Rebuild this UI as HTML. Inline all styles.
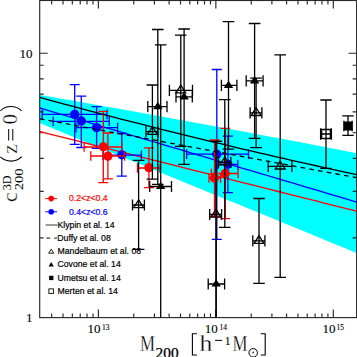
<!DOCTYPE html>
<html><head><meta charset="utf-8"><style>
html,body{margin:0;padding:0;background:#fff;width:357px;height:357px;overflow:hidden}
svg{display:block}
.s{font-family:"Liberation Serif",serif}
.a{font-family:"Liberation Sans",sans-serif}
</style></head><body>
<svg width="357" height="357" viewBox="0 0 357 357">
<rect width="357" height="357" fill="#fff"/>
<polygon fill="#00ffff" points="39.7,94.9 50.6,96.8 61.6,98.7 72.5,100.6 83.4,102.5 94.3,104.5 105.3,106.4 116.2,108.3 127.1,110.3 138.0,112.2 149.0,114.2 159.9,116.2 170.8,118.2 181.8,120.2 192.7,122.2 203.6,124.2 214.5,126.2 225.5,128.2 236.4,130.3 247.3,132.3 258.3,134.4 269.2,136.4 280.1,138.5 291.0,140.6 302.0,142.6 312.9,144.7 323.8,146.8 334.7,149.0 345.7,151.1 356.6,153.2 356.6,252.9 345.7,248.4 334.7,244.0 323.8,239.5 312.9,235.0 302.0,230.5 291.0,226.0 280.1,221.6 269.2,217.1 258.3,212.6 247.3,208.1 236.4,203.6 225.5,199.2 214.5,194.7 203.6,190.2 192.7,185.7 181.8,181.3 170.8,176.8 159.9,172.3 149.0,167.8 138.0,163.3 127.1,158.9 116.2,154.4 105.3,149.9 94.3,145.4 83.4,140.9 72.5,136.5 61.6,132.0 50.6,127.5 39.7,123.0"/>
<g><rect x="39.7" y="0.5" width="316.9" height="317.1" fill="none" stroke="#2a2a2a" stroke-width="1.15"/><path d="M39.7 317.50h8 M356.6 317.50h-8 M39.7 237.94h4 M356.6 237.94h-4 M39.7 191.40h4 M356.6 191.40h-4 M39.7 158.38h4 M356.6 158.38h-4 M39.7 132.76h4 M356.6 132.76h-4 M39.7 111.83h4 M356.6 111.83h-4 M39.7 94.14h4 M356.6 94.14h-4 M39.7 78.81h4 M356.6 78.81h-4 M39.7 65.29h4 M356.6 65.29h-4 M39.7 53.20h8 M356.6 53.20h-8 M51.66 317.6v-4 M51.66 0.5v4 M63.04 317.6v-4 M63.04 0.5v4 M72.34 317.6v-4 M72.34 0.5v4 M80.21 317.6v-4 M80.21 0.5v4 M87.02 317.6v-4 M87.02 0.5v4 M93.03 317.6v-4 M93.03 0.5v4 M98.40 317.6v-8 M98.40 0.5v8 M133.76 317.6v-4 M133.76 0.5v4 M154.44 317.6v-4 M154.44 0.5v4 M169.11 317.6v-4 M169.11 0.5v4 M180.49 317.6v-4 M180.49 0.5v4 M189.79 317.6v-4 M189.79 0.5v4 M197.66 317.6v-4 M197.66 0.5v4 M204.47 317.6v-4 M204.47 0.5v4 M210.48 317.6v-4 M210.48 0.5v4 M215.85 317.6v-8 M215.85 0.5v8 M251.21 317.6v-4 M251.21 0.5v4 M271.89 317.6v-4 M271.89 0.5v4 M286.56 317.6v-4 M286.56 0.5v4 M297.94 317.6v-4 M297.94 0.5v4 M307.24 317.6v-4 M307.24 0.5v4 M315.11 317.6v-4 M315.11 0.5v4 M321.92 317.6v-4 M321.92 0.5v4 M327.93 317.6v-4 M327.93 0.5v4 M333.30 317.6v-8 M333.30 0.5v8" stroke="#2a2a2a" stroke-width="1.15" fill="none"/></g>
<g><polyline fill="none" stroke="#ff0000" stroke-width="1.3"  points="39.7,131.48 47.8,133.53 56.0,135.57 64.1,137.61 72.2,139.66 80.3,141.70 88.5,143.75 96.6,145.79 104.7,147.83 112.8,149.88 121.0,151.92 129.1,153.96 137.2,156.01 145.3,158.05 153.5,160.09 161.6,162.14 169.7,164.18 177.8,166.22 186.0,168.27 194.1,170.31 202.2,172.35 210.3,174.40 218.5,176.44 226.6,178.49 234.7,180.53 242.8,182.57 251.0,184.62 259.1,186.66 267.2,188.70 275.3,190.75 283.5,192.79 291.6,194.83 299.7,196.88 307.8,198.92 316.0,200.96 324.1,203.01 332.2,205.05 340.3,207.09 348.5,209.14 356.6,211.18"/><polyline fill="none" stroke="#0000ff" stroke-width="1.3"  points="39.7,107.99 47.8,110.40 56.0,112.81 64.1,115.23 72.2,117.64 80.3,120.05 88.5,122.46 96.6,124.87 104.7,127.28 112.8,129.69 121.0,132.10 129.1,134.51 137.2,136.92 145.3,139.33 153.5,141.75 161.6,144.16 169.7,146.57 177.8,148.98 186.0,151.39 194.1,153.80 202.2,156.21 210.3,158.62 218.5,161.03 226.6,163.44 234.7,165.86 242.8,168.27 251.0,170.68 259.1,173.09 267.2,175.50 275.3,177.91 283.5,180.32 291.6,182.73 299.7,185.14 307.8,187.55 316.0,189.96 324.1,192.38 332.2,194.79 340.3,197.20 348.5,199.61 356.6,202.02"/><path d="M74.7 84.7V144.4M69.7 84.7H79.7M69.7 144.4H79.7" stroke="#0000ff" stroke-width="1.3" fill="none"/><path d="M42.2 114.4H107.0M42.2 109.6V119.2M107.0 109.6V119.2" stroke="#0000ff" stroke-width="1.3" fill="none"/><path d="M81.3 96.1V147.5M76.3 96.1H86.3M76.3 147.5H86.3" stroke="#0000ff" stroke-width="1.3" fill="none"/><path d="M53.2 121.3H109.3M53.2 116.5V126.1M109.3 116.5V126.1" stroke="#0000ff" stroke-width="1.3" fill="none"/><path d="M96.6 106.7V148.3M91.6 106.7H101.6M91.6 148.3H101.6" stroke="#0000ff" stroke-width="1.3" fill="none"/><path d="M76.0 127.6H117.6M76.0 122.8V132.4M117.6 122.8V132.4" stroke="#0000ff" stroke-width="1.3" fill="none"/><path d="M121.8 133.5V176.1M116.8 133.5H126.8M116.8 176.1H126.8" stroke="#0000ff" stroke-width="1.3" fill="none"/><path d="M103.0 155.2H141.4M103.0 150.4V160.0M141.4 150.4V160.0" stroke="#0000ff" stroke-width="1.3" fill="none"/><path d="M216.8 69.5V239.4M211.8 69.5H221.8M211.8 239.4H221.8" stroke="#0000ff" stroke-width="1.3" fill="none"/><path d="M186.6 154.1H248.5M186.6 149.3V158.9M248.5 149.3V158.9" stroke="#0000ff" stroke-width="1.3" fill="none"/><path d="M227.9 136.1V192.6M222.9 136.1H232.9M222.9 192.6H232.9" stroke="#0000ff" stroke-width="1.3" fill="none"/><path d="M218.0 164.5H237.8M218.0 159.7V169.3M237.8 159.7V169.3" stroke="#0000ff" stroke-width="1.3" fill="none"/><circle cx="74.7" cy="114.4" r="4.65" fill="#0000ff"/><circle cx="81.3" cy="121.0" r="4.65" fill="#0000ff"/><circle cx="96.6" cy="127.6" r="4.65" fill="#0000ff"/><circle cx="121.8" cy="154.8" r="4.65" fill="#0000ff"/><circle cx="216.8" cy="154.2" r="4.65" fill="#0000ff"/><circle cx="227.9" cy="164.3" r="4.65" fill="#0000ff"/><path d="M103.3 111.4V182.7M98.3 111.4H108.3M98.3 182.7H108.3" stroke="#ff0000" stroke-width="1.3" fill="none"/><path d="M84.1 147.0H121.8M84.1 142.2V151.8M121.8 142.2V151.8" stroke="#ff0000" stroke-width="1.3" fill="none"/><path d="M107.9 133.0V178.9M102.9 133.0H112.9M102.9 178.9H112.9" stroke="#ff0000" stroke-width="1.3" fill="none"/><path d="M90.8 156.0H124.6M90.8 151.2V160.8M124.6 151.2V160.8" stroke="#ff0000" stroke-width="1.3" fill="none"/><path d="M148.9 147.8V187.7M143.9 147.8H153.9M143.9 187.7H153.9" stroke="#ff0000" stroke-width="1.3" fill="none"/><path d="M137.5 168.0H160.0M137.5 163.2V172.8M160.0 163.2V172.8" stroke="#ff0000" stroke-width="1.3" fill="none"/><path d="M214.5 140.0V216.5M209.5 140.0H219.5M209.5 216.5H219.5" stroke="#ff0000" stroke-width="1.3" fill="none"/><path d="M209.0 178.0H220.6M209.0 173.2V182.8M220.6 173.2V182.8" stroke="#ff0000" stroke-width="1.3" fill="none"/><path d="M225.3 128.3V218.6M220.3 128.3H230.3M220.3 218.6H230.3" stroke="#ff0000" stroke-width="1.3" fill="none"/><path d="M211.3 173.5H238.1M211.3 168.7V178.3M238.1 168.7V178.3" stroke="#ff0000" stroke-width="1.3" fill="none"/><circle cx="103.3" cy="146.8" r="4.65" fill="#ff0000"/><circle cx="107.9" cy="156.1" r="4.65" fill="#ff0000"/><circle cx="148.9" cy="167.6" r="4.65" fill="#ff0000"/><circle cx="214.5" cy="178.0" r="4.65" fill="#ff0000"/><circle cx="225.3" cy="173.5" r="4.65" fill="#ff0000"/><polyline fill="none" stroke="#000" stroke-width="1.3"  points="39.7,97.49 47.8,99.69 56.0,101.89 64.1,104.07 72.2,106.24 80.3,108.40 88.5,110.54 96.6,112.68 104.7,114.80 112.8,116.91 121.0,119.01 129.1,121.09 137.2,123.17 145.3,125.23 153.5,127.28 161.6,129.32 169.7,131.34 177.8,133.36 186.0,135.36 194.1,137.35 202.2,139.32 210.3,141.29 218.5,143.24 226.6,145.19 234.7,147.11 242.8,149.03 251.0,150.94 259.1,152.83 267.2,154.71 275.3,156.58 283.5,158.44 291.6,160.28 299.7,162.12 307.8,163.94 316.0,165.75 324.1,167.54 332.2,169.33 340.3,171.10 348.5,172.86 356.6,174.61"/><polyline fill="none" stroke="#000" stroke-width="1.3" stroke-dasharray="4.7 4.14" stroke-dashoffset="8.73" points="39.7,118.85 47.8,120.35 56.0,121.86 64.1,123.37 72.2,124.88 80.3,126.39 88.5,127.90 96.6,129.41 104.7,130.92 112.8,132.43 121.0,133.94 129.1,135.45 137.2,136.96 145.3,138.47 153.5,139.98 161.6,141.49 169.7,143.00 177.8,144.50 186.0,146.01 194.1,147.52 202.2,149.03 210.3,150.54 218.5,152.05 226.6,153.56 234.7,155.07 242.8,156.58 251.0,158.09 259.1,159.60 267.2,161.11 275.3,162.62 283.5,164.13 291.6,165.64 299.7,167.15 307.8,168.65 316.0,170.16 324.1,171.67 332.2,173.18 340.3,174.69 348.5,176.20 356.6,177.71"/><path d="M152.4 85.0V179.1M146.6 85.0H158.2M146.6 179.1H158.2" stroke="#000" stroke-width="1.3" fill="none"/><path d="M146.0 131.7H158.0M146.0 126.1V137.3M158.0 126.1V137.3" stroke="#000" stroke-width="1.3" fill="none"/><polygon points="152.4,126.5 147.5,134.3 157.3,134.3" fill="none" stroke="#000" stroke-width="1.3"/><path d="M180.8 35.2V146.4M175.0 35.2H186.6M175.0 146.4H186.6" stroke="#000" stroke-width="1.3" fill="none"/><path d="M169.4 90.3H192.5M169.4 84.7V95.9M192.5 84.7V95.9" stroke="#000" stroke-width="1.3" fill="none"/><polygon points="180.8,85.1 175.9,92.9 185.7,92.9" fill="none" stroke="#000" stroke-width="1.3"/><path d="M256.1 78.2V147.6M250.3 78.2H261.9M250.3 147.6H261.9" stroke="#000" stroke-width="1.3" fill="none"/><path d="M250.1 112.9H261.9M250.1 107.3V118.5M261.9 107.3V118.5" stroke="#000" stroke-width="1.3" fill="none"/><polygon points="256.1,107.7 251.2,115.5 261.0,115.5" fill="none" stroke="#000" stroke-width="1.3"/><path d="M224.8 99.7V227.3M219.0 99.7H230.6M219.0 227.3H230.6" stroke="#000" stroke-width="1.3" fill="none"/><path d="M218.5 162.3H230.8M218.5 156.7V167.9M230.8 156.7V167.9" stroke="#000" stroke-width="1.3" fill="none"/><polygon points="224.8,157.1 219.9,164.9 229.7,164.9" fill="none" stroke="#000" stroke-width="1.3"/><path d="M280.2 54.9V277.4M274.4 54.9H286.0M274.4 277.4H286.0" stroke="#000" stroke-width="1.3" fill="none"/><path d="M268.2 166.4H291.9M268.2 160.8V172.0M291.9 160.8V172.0" stroke="#000" stroke-width="1.3" fill="none"/><polygon points="280.2,161.2 275.3,169.0 285.1,169.0" fill="none" stroke="#000" stroke-width="1.3"/><path d="M138.6 160.4V249.3M132.8 160.4H144.4M132.8 249.3H144.4" stroke="#000" stroke-width="1.3" fill="none"/><path d="M132.5 205.0H144.4M132.5 199.4V210.6M144.4 199.4V210.6" stroke="#000" stroke-width="1.3" fill="none"/><polygon points="138.6,199.8 133.7,207.6 143.5,207.6" fill="none" stroke="#000" stroke-width="1.3"/><path d="M216.0 141.4V317.6M210.2 141.4H221.8" stroke="#000" stroke-width="1.3" fill="none"/><path d="M209.7 214.5H221.6M209.7 208.9V220.1M221.6 208.9V220.1" stroke="#000" stroke-width="1.3" fill="none"/><polygon points="216.0,209.3 211.1,217.1 220.9,217.1" fill="none" stroke="#000" stroke-width="1.3"/><path d="M259.0 198.5V283.3M253.2 198.5H264.8M253.2 283.3H264.8" stroke="#000" stroke-width="1.3" fill="none"/><path d="M252.8 240.8H264.9M252.8 235.2V246.4M264.9 235.2V246.4" stroke="#000" stroke-width="1.3" fill="none"/><polygon points="259.0,235.6 254.1,243.4 263.9,243.4" fill="none" stroke="#000" stroke-width="1.3"/><path d="M157.8 29.5V184.3M152.0 29.5H163.6M152.0 184.3H163.6" stroke="#000" stroke-width="1.3" fill="none"/><path d="M147.8 106.6H167.0M147.8 101.0V112.2M167.0 101.0V112.2" stroke="#000" stroke-width="1.3" fill="none"/><polygon points="157.8,101.8 153.1,109.2 162.5,109.2" fill="#000"/><path d="M184.1 29.0V164.3M178.3 29.0H189.9M178.3 164.3H189.9" stroke="#000" stroke-width="1.3" fill="none"/><path d="M176.0 96.8H192.3M176.0 91.2V102.4M192.3 91.2V102.4" stroke="#000" stroke-width="1.3" fill="none"/><polygon points="184.1,92.0 179.4,99.4 188.8,99.4" fill="#000"/><path d="M160.7 44.8V317.6M154.9 44.8H166.5" stroke="#000" stroke-width="1.3" fill="none"/><path d="M149.7 186.5H171.5M149.7 180.9V192.1M171.5 180.9V192.1" stroke="#000" stroke-width="1.3" fill="none"/><polygon points="160.7,181.7 156.0,189.1 165.4,189.1" fill="#000"/><path d="M254.6 23.5V138.3M248.8 23.5H260.4M248.8 138.3H260.4" stroke="#000" stroke-width="1.3" fill="none"/><path d="M246.2 80.9H263.1M246.2 75.3V86.5M263.1 75.3V86.5" stroke="#000" stroke-width="1.3" fill="none"/><polygon points="254.6,76.1 249.9,83.5 259.3,83.5" fill="#000"/><path d="M228.5 21.7V149.1M222.7 21.7H234.3M222.7 149.1H234.3" stroke="#000" stroke-width="1.3" fill="none"/><path d="M221.4 85.4H236.9M221.4 79.8V91.0M236.9 79.8V91.0" stroke="#000" stroke-width="1.3" fill="none"/><polygon points="228.5,80.6 223.8,88.0 233.2,88.0" fill="#000"/><path d="M216.2 141.4V317.6M210.4 141.4H222.0" stroke="#000" stroke-width="1.3" fill="none"/><path d="M208.2 284.0H224.6M208.2 278.4V289.6M224.6 278.4V289.6" stroke="#000" stroke-width="1.3" fill="none"/><polygon points="216.2,279.2 211.5,286.6 220.9,286.6" fill="#000"/><path d="M326.0 100.0V168.3M320.3 100.0H331.7M320.3 168.3H331.7" stroke="#000" stroke-width="1.3" fill="none"/><path d="M320.6 134.0H331.4M320.6 128.2V139.8M331.4 128.2V139.8" stroke="#000" stroke-width="1.3" fill="none"/><rect x="321.5" y="129.5" width="9" height="9" fill="none" stroke="#000" stroke-width="1.5"/><path d="M348.0 115.9V135.4M342.3 115.9H353.7M342.3 135.4H353.7" stroke="#000" stroke-width="1.3" fill="none"/><path d="M343.9 126.0H352.2M343.9 120.7V131.3M352.2 120.7V131.3" stroke="#000" stroke-width="1.3" fill="none"/><rect x="343.8" y="121.5" width="8.4" height="9" fill="#000"/></g>
<g class="a" font-size="8.7" stroke-width="0.2">
<path d="M45.3 198.6H57" stroke="#f00" stroke-width="1"/>
<path d="M45.3 211.8H57" stroke="#00f" stroke-width="1"/>
<circle cx="51.2" cy="198.6" r="2.8" fill="#f00"/>
<circle cx="51.2" cy="211.8" r="2.8" fill="#00f"/>
<text x="69" y="201.4" fill="#f00" stroke="#f00">0.2&lt;z&lt;0.4</text>
<text x="69" y="214.6" fill="#00f" stroke="#00f">0.4&lt;z&lt;0.6</text>
<path d="M45.6 225H57.5" stroke="#222" stroke-width="0.9"/>
<text stroke="#000" x="57.5" y="227.5">Klypin et al. 14</text>
<path d="M46.4 238.1H50.3M54.2 238.1H57" stroke="#111" stroke-width="1"/>
<text stroke="#000" x="57.3" y="240.9">Duffy et al. 08</text>
<polygon points="51.2,249.2 48.7,253.2 53.7,253.2" fill="none" stroke="#000" stroke-width="0.9"/>
<text stroke="#000" x="57.5" y="254.1">Mandelbaum et al. 08</text>
<polygon points="51.2,262 48.6,266.4 53.8,266.4" fill="#000"/>
<text stroke="#000" x="57.5" y="267.3">Covone et al. 14</text>
<rect x="49.1" y="275.8" width="4.3" height="4.3" fill="#000"/>
<text stroke="#000" x="57.5" y="280.7">Umetsu et al. 14</text>
<rect x="48.9" y="288.9" width="4.5" height="4.5" fill="none" stroke="#000" stroke-width="0.9"/>
<text stroke="#000" x="57.5" y="293.6">Merten et al. 14</text>
</g>
<g class="s" fill="#000" stroke="#fff" stroke-width="0.45">
</g><g class="s" fill="#000" stroke="#000" stroke-width="0.12"><text x="32.5" y="57.7" font-size="13" text-anchor="end">10</text>
<text x="32.5" y="322" font-size="13" text-anchor="end">1</text>
<text x="87.4" y="332.9" font-size="13">10</text><text x="102" y="330" font-size="7.5">13</text>
<text x="204.8" y="332.9" font-size="13">10</text><text x="219.6" y="330" font-size="7.5">14</text>
<text x="322.4" y="332.9" font-size="13">10</text><text x="336.5" y="330" font-size="7.5">15</text>
</g><g class="s" fill="#000" stroke="#fff" stroke-width="0.3"><text x="139.9" y="350.5" font-size="22.2" textLength="15" lengthAdjust="spacingAndGlyphs">M</text>
<text stroke="#000" stroke-width="0.25" x="155.6" y="357.8" font-size="14" textLength="23" lengthAdjust="spacingAndGlyphs">200</text>
<path d="M196.9 333.8H192.4V355H196.9M260.8 333.8H265.2V355H260.8" fill="none" stroke="#000" stroke-width="1.1"/>
<text x="199.4" y="350.6" font-size="22.2" textLength="12.8" lengthAdjust="spacingAndGlyphs">h</text>
<path d="M215.1 340.4H222.1" stroke="#000" stroke-width="1"/>
<text stroke="none" x="224.5" y="344.5" font-size="12.5">1</text>
<text x="232.4" y="350.5" font-size="22.2" textLength="15" lengthAdjust="spacingAndGlyphs">M</text>
<circle cx="253.2" cy="352.8" r="4.25" fill="none" stroke="#000" stroke-width="1"/>
<circle cx="253.1" cy="352.5" r="0.9" fill="#000"/>
<text transform="translate(16.9,197.2) rotate(-90)" font-size="22" text-anchor="middle">c</text>
<text stroke="none" transform="translate(10.6,182.8) rotate(-90)" font-size="12.5" text-anchor="middle" textLength="15" lengthAdjust="spacingAndGlyphs">3D</text>
<text stroke="none" transform="translate(23.4,179.35) rotate(-90)" font-size="12.8" text-anchor="middle" textLength="22" lengthAdjust="spacingAndGlyphs">200</text>
<text transform="translate(16.8,148.9) rotate(-90)" font-size="21.5" text-anchor="middle">z</text>
<text transform="translate(17.1,119.3) rotate(-90)" font-size="21" text-anchor="middle">0</text>
<path d="M8.7 129V140.5M12.8 129V140.5" stroke="#000" stroke-width="1"/>
<path d="M0.3 110.9A15.2 15.2 0 0 1 21.6 110.9M0.3 156.9A15.5 15.5 0 0 0 21.8 156.7" fill="none" stroke="#000" stroke-width="1.1"/>
</g>

</svg>
</body></html>
